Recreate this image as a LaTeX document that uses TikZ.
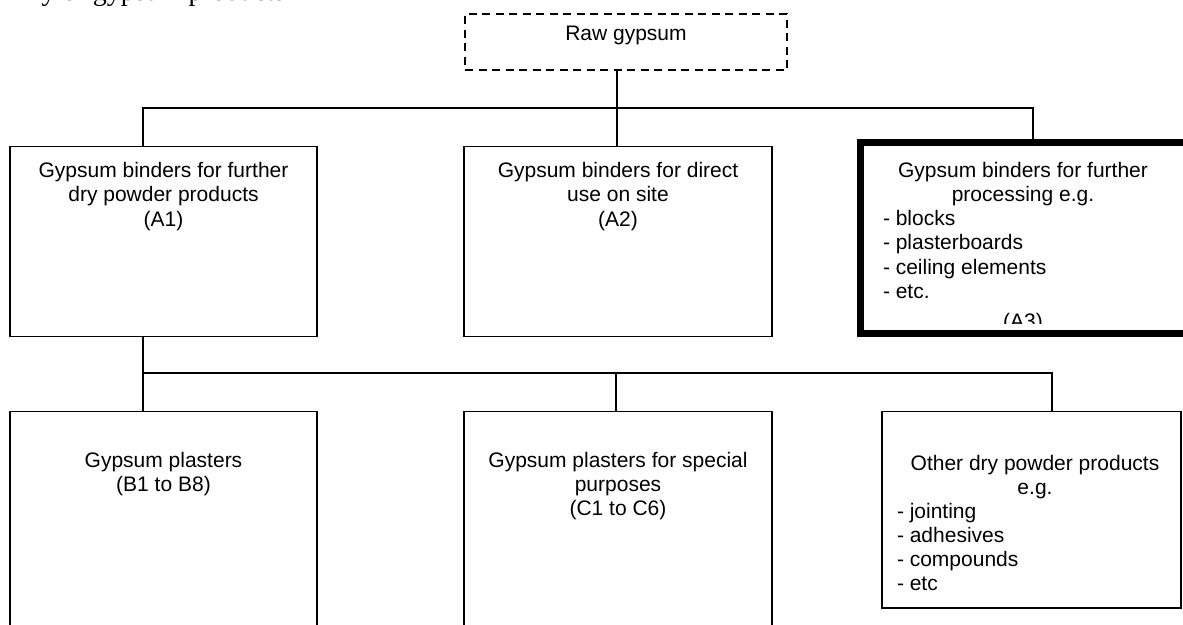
\documentclass[tikz,border=0pt]{standalone}
\usepackage{fontspec}
\setmainfont{Liberation Sans}
\newfontfamily\serifcap{Liberation Serif}
\newcommand\fl{\rule{0pt}{15.5pt}}
\begin{document}
\begin{tikzpicture}[x=1pt,y=-1pt,
  box/.style={draw, line width=1.6pt, inner sep=0pt, outer sep=0pt},
  txt/.style={inner sep=0pt, outer sep=0pt, font=\fontsize{21}{24.3}\selectfont, align=center},
  lst/.style={txt, align=left},
  conn/.style={line width=1.6pt}]
\useasboundingbox (0,0) rectangle (1183,624);
\begin{scope}
\clip (0,0) rectangle (1183,624);
% cut caption at the top
\node[anchor=base west, inner sep=0pt, font=\serifcap\fontsize{28}{30}\selectfont] (title) at (-24,0) {Family of gypsum products};

% boxes
\node[box, line width=2pt, dash pattern=on 8pt off 5.5pt, minimum width=322pt, minimum height=56pt] (raw) at (626,42) {};
\node[box, minimum width=307pt, minimum height=190pt] (a1) at (163.5,241.5) {};
\node[box, minimum width=308pt, minimum height=190pt] (a2) at (618,241.5) {};
\node[box, line width=7pt, minimum width=330pt, minimum height=190.5pt] (a3) at (1025,237.75) {};
\node[box, minimum width=307pt, minimum height=239pt] (pb) at (163.5,531) {};
\node[box, minimum width=308pt, minimum height=239pt] (pc) at (618,531) {};
\node[box, minimum width=299pt, minimum height=196.5pt] (pd) at (1031.5,509.75) {};

% texts
\node[txt, anchor=base] (rawt) at (626,40) {Raw gypsum};
\node[txt, anchor=north] (a1t) at (163.5,162) {\fl Gypsum binders for further\\dry powder products\\(A1)};
\node[txt, anchor=north] (a2t) at (618,162) {\fl Gypsum binders for direct\\use on site\\(A2)};
\node[txt, anchor=north] (a3t) at (1023,162) {\fl Gypsum binders for further\\processing e.g.};
\node[lst, anchor=north west] (a3l) at (883,210) {\fl - blocks\\- plasterboards\\- ceiling elements\\- etc.};
\begin{scope}
\clip (857,139) rectangle (1183,323);
\node[txt, anchor=base] (a3c) at (1023,328) {(A3)};
\end{scope}
\node[txt, anchor=north] (pbt) at (163.5,451.5) {\fl Gypsum plasters\\(B1 to B8)};
\node[txt, anchor=north] (pct) at (618,451.5) {\fl Gypsum plasters for special\\purposes\\(C1 to C6)};
\node[txt, anchor=north] (pdt) at (1035,454.5) {\fl Other dry powder products\\e.g.};
\node[lst, anchor=north west] (pdl) at (897,502.5) {\fl - jointing\\- adhesives\\- compounds\\- etc};

% connectors
\coordinate (b1l) at (143,108);
\coordinate (b1m) at (617,108);
\coordinate (b1r) at (1033,108);
\draw[conn] (raw.south -| b1m) -- (b1m);
\draw[conn] (b1l |- a1.north) -- (b1l) -- (b1r) -- (b1r |- a3.north);
\draw[conn] (b1m) -- (b1m |- a2.north);
\coordinate (b2l) at (143,373);
\coordinate (b2m) at (616,373);
\coordinate (b2r) at (1052,373);
\draw[conn] (a1.south -| b2l) -- (b2l |- pb.north);
\draw[conn] (b2l) -- (b2r) -- (b2r |- pd.north);
\draw[conn] (b2m) -- (b2m |- pc.north);
\end{scope}
\end{tikzpicture}
\end{document}
